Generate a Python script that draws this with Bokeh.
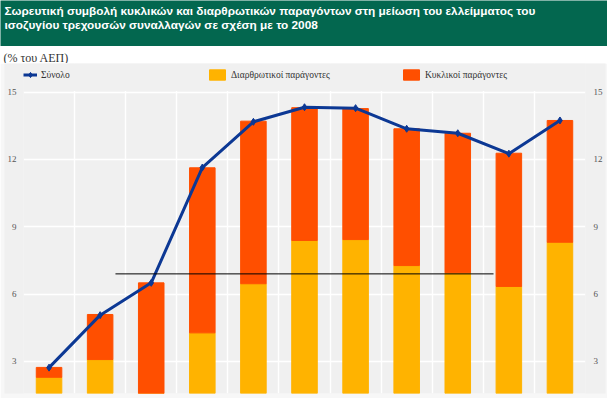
from bokeh.plotting import figure
from bokeh.models import (Range1d, LinearAxis, FixedTicker, Grid, Legend, LegendItem,
                          Label, ColumnDataSource, BoxAnnotation)
from bokeh.layouts import column
from bokeh.embed import file_html
from bokeh.resources import INLINE

# ---- data (x-axis labels are cropped in the original) ----
categories = ["1", "2", "3", "4", "5", "6", "7", "8", "9", "10", "11"]
structural = [2.29, 3.08, 0.80, 4.27, 6.46, 8.39, 8.43, 7.27, 6.95, 6.34, 8.31]
cyclical = [0.44, 2.01, 5.70, 7.36, 7.25, 5.92, 5.84, 6.10, 6.22, 5.94, 5.43]
total = [2.72, 5.06, 6.50, 11.64, 13.68, 14.33, 14.29, 13.37, 13.17, 12.26, 13.74]
y_ticks = [3, 6, 9, 12, 15]
ref_line_y = 6.9
ref_line_x = [1.3, 8.7]

title_lines = ["Σωρευτική συμβολή κυκλικών και διαρθρωτικών παραγόντων στη μείωση του ελλείμματος του",
               "ισοζυγίου τρεχουσών συναλλαγών σε σχέση με το 2008"]
unit_text = "(% του ΑΕΠ)"
legend_labels = ["Σύνολο", "Διαρθρωτικοί παράγοντες", "Κυκλικοί παράγοντες"]

GREEN = "#03674f"
GRAY = "#f0f0f0"
YELLOW = "#ffb300"
ORANGE = "#ff4f00"
NAVY = "#0c3894"
W = 607


def no_align(f):
    if "frame_align" in f.properties():
        f.frame_align = False


# ---- header band ----
header = figure(width=W, height=46, x_range=Range1d(0, 1), y_range=Range1d(0, 1),
                x_axis_type=None, y_axis_type=None, min_border=0,
                background_fill_color=GREEN, border_fill_color=GREEN,
                outline_line_color=None, toolbar_location=None, output_backend="svg")
no_align(header)
for i, t in enumerate(title_lines):
    header.add_layout(Label(x=4, y=36 - 14 * i, x_units="screen", y_units="screen", text=t,
                            text_font="Liberation Sans", text_font_size="11.8px",
                            text_font_style="bold", text_color="white", text_baseline="middle"))

# ---- unit line ----
unit = figure(width=W, height=17, x_range=Range1d(0, 1), y_range=Range1d(0, 1),
              x_axis_type=None, y_axis_type=None, min_border=0,
              background_fill_color="white", border_fill_color="white",
              outline_line_color=None, toolbar_location=None, output_backend="svg")
no_align(unit)
unit.add_layout(Label(x=3, y=6, x_units="screen", y_units="screen", text=unit_text,
                      text_font="Liberation Serif", text_font_size="12px",
                      text_color="#333333", text_baseline="middle"))

# ---- main chart ----
src = ColumnDataSource(dict(x=list(range(len(categories))), cat=categories,
                            structural=structural, cyclical=cyclical, total=total))

p = figure(width=W, height=335, x_range=Range1d(-0.5, len(categories) - 0.5),
           y_range=Range1d(1.567, 16.28), x_axis_type=None, y_axis_type=None,
           min_border_left=23, min_border_right=22, min_border_top=0, min_border_bottom=5,
           background_fill_color=GRAY, border_fill_color="#f7f7f7", outline_line_color=None,
           toolbar_location=None, output_backend="svg")
no_align(p)

p.add_layout(Grid(dimension=0, ticker=FixedTicker(ticks=[i - 0.5 for i in range(len(categories) + 1)]),
                  grid_line_color="white", grid_line_width=1.5))
p.add_layout(Grid(dimension=1, ticker=FixedTicker(ticks=y_ticks),
                  grid_line_color="white", grid_line_width=1.5))
# legend strip above the plotting area: hide grid lines there
p.add_layout(BoxAnnotation(bottom=max(y_ticks) + 0.05, fill_color=GRAY, fill_alpha=1.0,
                           line_alpha=0))

for side, standoff in (("left", 7), ("right", 8)):
    ax = LinearAxis(ticker=FixedTicker(ticks=y_ticks), axis_line_color=None,
                    major_tick_line_color=None, minor_tick_line_color=None,
                    major_tick_out=0, major_tick_in=0, minor_tick_out=0, minor_tick_in=0,
                    major_label_standoff=standoff, major_label_text_font="Liberation Serif",
                    major_label_text_font_size="9px", major_label_text_color="#555555",
                    background_fill_color=GRAY, background_fill_alpha=1.0)
    p.add_layout(ax, side)

bars = p.vbar_stack(["structural", "cyclical"], x="x", width=0.5, color=[YELLOW, ORANGE], source=src)
ln = p.line("x", "total", source=src, line_color=NAVY, line_width=3)
pts = p.scatter("x", "total", source=src, marker="diamond", size=7, color=NAVY)
p.segment(x0=[ref_line_x[0]], x1=[ref_line_x[1]], y0=[ref_line_y], y1=[ref_line_y],
          line_color="black", line_width=1)

common = dict(orientation="horizontal", glyph_height=13, label_standoff=4, padding=0, margin=0,
              background_fill_alpha=0, border_line_alpha=0,
              label_text_font="Liberation Serif", label_text_font_size="9.5px",
              label_text_color="#333333")
legend_a = Legend(items=[LegendItem(label=legend_labels[0], renderers=[ln, pts])],
                  location=(0, 312), glyph_width=14, spacing=0, **common)
legend_b = Legend(items=[LegendItem(label=legend_labels[1], renderers=[bars[0]]),
                         LegendItem(label=legend_labels[2], renderers=[bars[1]])],
                  location=(184, 312), glyph_width=20, label_width=150, spacing=20, **common)
p.add_layout(legend_a)
p.add_layout(legend_b)

layout = column(header, unit, p)
open("out.html", "w").write(file_html(layout, INLINE))
